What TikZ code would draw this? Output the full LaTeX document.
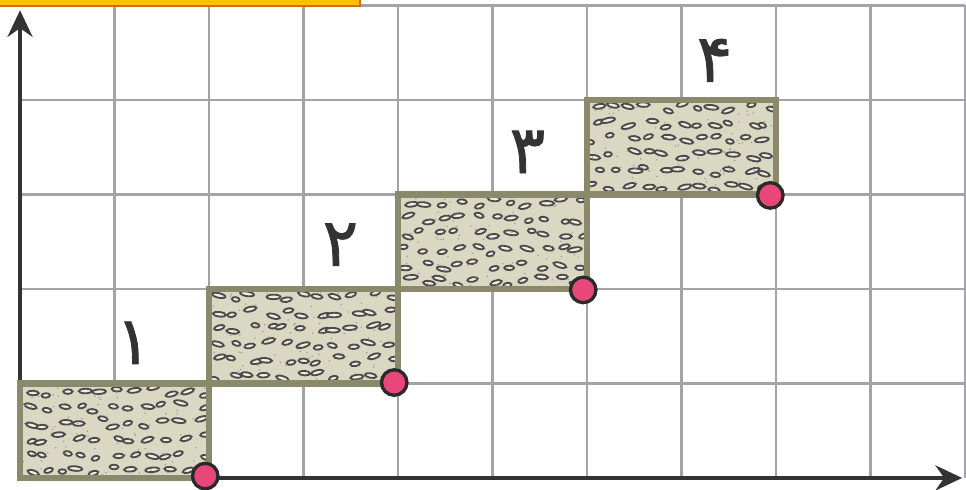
\documentclass[tikz,border=0pt]{standalone}
\usepackage{fontspec}
\usepackage{xcolor}
\usepackage{tikz}
\usetikzlibrary{arrows.meta}
\newfontfamily\farsifont[Script=Arabic,FakeBold=1.2]{DejaVu Sans}
\definecolor{gridc}{HTML}{A4A4A8}
\definecolor{axis}{HTML}{333333}
\definecolor{block}{HTML}{DAD7C2}
\definecolor{blockedge}{HTML}{8A896C}
\definecolor{stoneline}{HTML}{4A4A48}
\definecolor{pin}{HTML}{E9467A}
\definecolor{pinedge}{HTML}{2A2A2A}
\definecolor{banner}{HTML}{FFC000}
\definecolor{banneredge}{HTML}{D2691E}
\tikzset{
  gridline/.style={draw=gridc, line width=0.7pt},
  axisline/.style={draw=axis, line width=1.3pt, -{Stealth[length=8pt,width=7.5pt]}},
  blockbox/.style={draw=blockedge, line width=1.9pt},
  stone/.style={draw=stoneline, fill=block!45!white, line width=0.55pt},
  pindot/.style={circle, fill=pin, draw=pinedge, line width=1pt, minimum size=0.27cm, inner sep=0pt},
  lab/.style={text=axis, font=\farsifont\fontsize{20}{20}\selectfont},
}
% stone texture for a 2x1 block, #1,#2 = lower left corner
\newcommand{\stonefill}[2]{%
  \begin{scope}
    \clip (#1,#2) rectangle ++(2,1);
    \foreach \c in {0,...,10} {
      \foreach \r in {0,...,5} {
        \pgfmathsetmacro\sx{#1+0.09+\c*0.182+0.06*rand}
        \pgfmathsetmacro\sy{#2+0.083+\r*0.1667+0.045*rand}
        \pgfmathsetmacro\rx{0.04+0.035*rnd}
        \pgfmathsetmacro\ang{20*rand}
        \draw[stone, rotate around={\ang:(\sx,\sy)}] (\sx,\sy) ellipse [x radius=\rx, y radius=0.024];
      }
    }
    \foreach \k in {1,...,90} {
      \fill[stoneline!60] (#1+2*rnd,#2+rnd) circle (0.008);
    }
  \end{scope}
}

\begin{document}
\begin{tikzpicture}
  \useasboundingbox (-0.212,-0.127) rectangle (10.011,5.058);
  \pgfmathsetseed{17}

  % grid
  \foreach \x in {1,...,10} \draw[gridline] (\x,0) -- (\x,5);
  \foreach \y in {1,...,5} \draw[gridline] (0,\y) -- (10,\y);

  % banner cut off at the top
  \draw[fill=banner, draw=banneredge, line width=0.8pt] (-0.5,4.995) rectangle (3.598,5.4);

  % axes
  \coordinate (O) at (0,0);
  \coordinate (xend) at (9.97,0);
  \coordinate (yend) at (0,4.95);
  \draw[axisline] (O) -- (xend);
  \draw[axisline] (O) -- (yend);

  % blocks
  \foreach \n in {0,...,3} {
    \fill[block] (2*\n,\n) rectangle ++(2,1);
    \stonefill{2*\n}{\n}
    \draw[blockbox] (2*\n,\n) rectangle ++(2,1);
  }

  % corner dots
  \node[pindot] (p1) at (1.96,0.02) {};
  \node[pindot] (p2) at (3.96,1.01) {};
  \node[pindot] (p3) at (5.96,1.99) {};
  \node[pindot] (p4) at (7.94,2.99) {};

  % numbers
  \node[lab] (n1) at (1.2,1.43) {۱};
  \node[lab] (n2) at (3.39,2.47) {۲};
  \node[lab] (n3) at (5.37,3.45) {۳};
  \node[lab] (n4) at (7.35,4.42) {۴};
\end{tikzpicture}
\end{document}
